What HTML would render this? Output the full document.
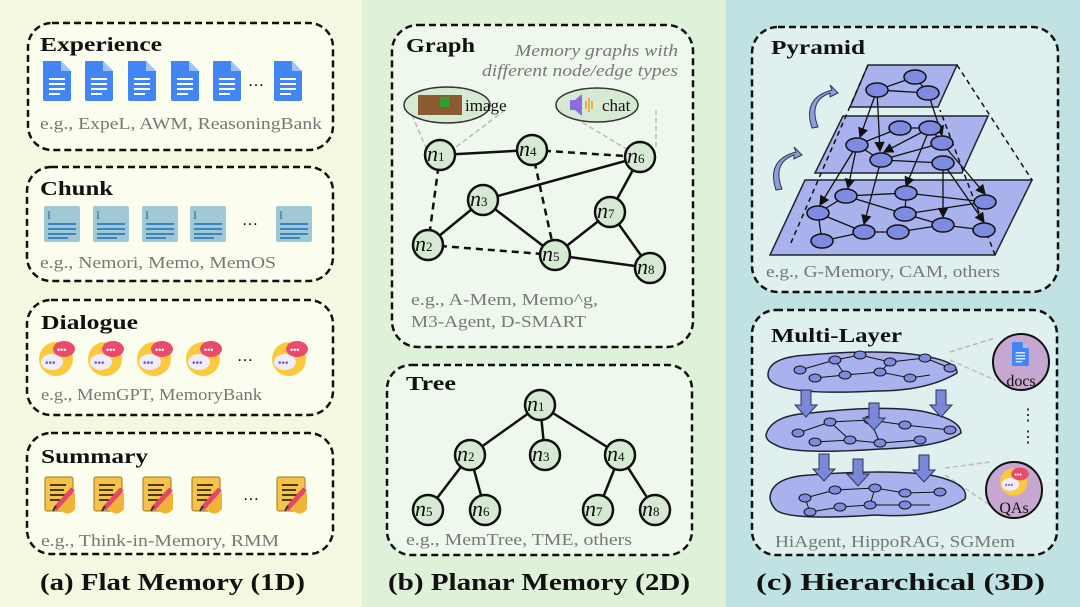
<!DOCTYPE html>
<html><head><meta charset="utf-8"><style>
html,body{margin:0;padding:0;width:1080px;height:607px;overflow:hidden;background:#f3f8e0}
svg{display:block}
.t{font-family:"Liberation Serif",serif;font-weight:bold;font-size:20px;fill:#111}
.e{font-family:"Liberation Serif",serif;font-size:17px;fill:#777}
.cap{font-family:"Liberation Serif",serif;font-weight:bold;font-size:24px;fill:#111}
.box{stroke:#111;stroke-width:2.5;stroke-dasharray:7 4;fill-opacity:1}
.nd{fill:#d6e9d2;stroke:#111;stroke-width:2.5}
.nl{font-family:"Liberation Serif",serif;font-style:italic;font-size:22px;fill:#111}
.pn{fill:#7f8be0;stroke:#111;stroke-width:1.5}
.pl{fill:#a9b2ec;stroke:#223;stroke-width:1.5}
</style></head><body>
<svg width="1080" height="607" viewBox="0 0 1080 607" xmlns="http://www.w3.org/2000/svg">
<defs>
<marker id="ar" markerWidth="8" markerHeight="8" refX="7" refY="4" orient="auto"><path d="M0,0 L8,4 L0,8 z" fill="#111"/></marker>
<g id="doc"><path d="M0,0 h18 l10,10 v28 a2,2 0 0 1 -2,2 h-24 a2,2 0 0 1 -2,-2 z" fill="#4285f4"/><path d="M18,0 l10,10 h-10 z" fill="#a1c2fa"/><rect x="6" y="17" width="16" height="2" fill="#fff"/><rect x="6" y="22" width="16" height="2" fill="#fff"/><rect x="6" y="27" width="16" height="2" fill="#fff"/><rect x="6" y="32" width="11" height="2" fill="#fff"/></g>
<g id="chk"><rect x="0" y="0" width="36" height="36" rx="2" fill="#9fc8d4"/><text x="3" y="13" font-family="Liberation Serif" font-size="12" fill="#2a6a9a">I</text><rect x="4" y="17" width="28" height="2" fill="#3a86c0"/><rect x="4" y="22" width="28" height="2" fill="#3a86c0"/><rect x="4" y="27" width="28" height="2" fill="#3a86c0"/><rect x="4" y="31" width="20" height="2" fill="#3a86c0"/></g>
<g id="dlg"><circle cx="17" cy="20" r="17" fill="#fbc93e"/><ellipse cx="13" cy="23" rx="11" ry="8" fill="#eeeefa"/><text x="6" y="27" font-size="10" fill="#7a5cd0" font-family="Liberation Sans">•••</text><ellipse cx="25" cy="10" rx="11" ry="8" fill="#ea4a6b"/><text x="18" y="14" font-size="9" fill="#fff" font-family="Liberation Sans">•••</text></g>
<g id="sum"><rect x="0" y="0" width="28" height="34" rx="2" fill="#f5c34a" stroke="#a07820" stroke-width="1"/><path d="M16,34 q8,6 14,-2 v-16 h-8" fill="#f0b436"/><rect x="5" y="7" width="16" height="2" fill="#4a3a10"/><rect x="5" y="12" width="14" height="2" fill="#4a3a10"/><rect x="5" y="17" width="16" height="2" fill="#4a3a10"/><rect x="5" y="22" width="10" height="2" fill="#4a3a10"/><path d="M10,32 L28,12" stroke="#e5476a" stroke-width="5"/><path d="M8,34 L11,29" stroke="#333" stroke-width="2"/></g>
</defs>
<rect x="0" y="0" width="362" height="607" fill="#f3f8e0"/>
<rect x="362" y="0" width="364" height="607" fill="#e0f1da"/>
<rect x="726" y="0" width="354" height="607" fill="#c0e2e2"/>

<!-- LEFT -->
<rect class="box" x="28" y="23" width="305" height="127" rx="24" fill="#fbfdee"/>
<text class="t" x="40" y="51" textLength="122" lengthAdjust="spacingAndGlyphs">Experience</text>
<use href="#doc" x="43" y="61"/><use href="#doc" x="85" y="61"/><use href="#doc" x="128" y="61"/><use href="#doc" x="171" y="61"/><use href="#doc" x="213" y="61"/>
<text x="248" y="86" font-size="16" font-family="Liberation Serif">…</text><use href="#doc" x="274" y="61"/>
<text class="e" x="40" y="129" textLength="282" lengthAdjust="spacingAndGlyphs">e.g., ExpeL, AWM, ReasoningBank</text>

<rect class="box" x="27" y="167" width="306" height="114" rx="24" fill="#fbfdee"/>
<text class="t" x="40" y="195" textLength="73" lengthAdjust="spacingAndGlyphs">Chunk</text>
<use href="#chk" x="44" y="206"/><use href="#chk" x="93" y="206"/><use href="#chk" x="142" y="206"/><use href="#chk" x="190" y="206"/>
<text x="242" y="225" font-size="16" font-family="Liberation Serif">…</text><use href="#chk" x="276" y="206"/>
<text class="e" x="40" y="268" textLength="236" lengthAdjust="spacingAndGlyphs">e.g., Nemori, Memo, MemOS</text>

<rect class="box" x="27" y="300" width="306" height="115" rx="24" fill="#fbfdee"/>
<text class="t" x="41" y="329" textLength="97" lengthAdjust="spacingAndGlyphs">Dialogue</text>
<use href="#dlg" x="39" y="339"/><use href="#dlg" x="88" y="339"/><use href="#dlg" x="137" y="339"/><use href="#dlg" x="186" y="339"/>
<text x="237" y="361" font-size="16" font-family="Liberation Serif">…</text><use href="#dlg" x="272" y="339"/>
<text class="e" x="41" y="400" textLength="221" lengthAdjust="spacingAndGlyphs">e.g., MemGPT, MemoryBank</text>

<rect class="box" x="27" y="433" width="306" height="121" rx="24" fill="#fbfdee"/>
<text class="t" x="41" y="463" textLength="107" lengthAdjust="spacingAndGlyphs">Summary</text>
<use href="#sum" x="45" y="477"/><use href="#sum" x="94" y="477"/><use href="#sum" x="143" y="477"/><use href="#sum" x="192" y="477"/>
<text x="243" y="500" font-size="16" font-family="Liberation Serif">…</text><use href="#sum" x="277" y="477"/>
<text class="e" x="41" y="546" textLength="238" lengthAdjust="spacingAndGlyphs">e.g., Think-in-Memory, RMM</text>

<text class="cap" x="40" y="590" textLength="265" lengthAdjust="spacingAndGlyphs">(a) Flat Memory (1D)</text>

<!-- MIDDLE: Graph -->
<rect class="box" x="392" y="25" width="301" height="322" rx="26" fill="#eff8ec"/>
<text class="t" x="406" y="52" textLength="69" lengthAdjust="spacingAndGlyphs">Graph</text>
<text class="e" x="515" y="56" font-style="italic" font-size="15" textLength="163" lengthAdjust="spacingAndGlyphs">Memory graphs with</text>
<text class="e" x="482" y="76" font-style="italic" font-size="15" textLength="196" lengthAdjust="spacingAndGlyphs">different node/edge types</text>
<g stroke="#bbb" stroke-width="1.5" stroke-dasharray="5 3"><line x1="412" y1="115" x2="428" y2="152"/><line x1="505" y1="110" x2="452" y2="150"/><line x1="562" y1="110" x2="628" y2="150"/><line x1="656" y1="110" x2="656" y2="150"/></g>
<ellipse cx="447" cy="105" rx="43" ry="18" fill="#d6e9d2" stroke="#333" stroke-width="1.5"/>
<rect x="418" y="95" width="44" height="20" fill="#8a5a30"/><rect x="440" y="97" width="10" height="10" fill="#2fa02f"/>
<text x="465" y="111" font-family="Liberation Serif" font-size="17" fill="#111">image</text>
<ellipse cx="597" cy="105" rx="41" ry="17" fill="#d6e9d2" stroke="#333" stroke-width="1.5"/>
<path d="M570,100 h5 l7,-6 v22 l-7,-6 h-5 z" fill="#8a6de0"/><g stroke="#f0a020" stroke-width="1.5"><line x1="586" y1="101" x2="586" y2="109"/><line x1="589" y1="98" x2="589" y2="112"/><line x1="592" y1="101" x2="592" y2="109"/></g>
<text x="602" y="111" font-family="Liberation Serif" font-size="17" fill="#111">chat</text>
<g stroke="#111" stroke-width="2.5"><line x1="440" y1="155" x2="532" y2="150"/><line x1="483" y1="200" x2="640" y2="157"/><line x1="483" y1="200" x2="428" y2="245"/><line x1="483" y1="200" x2="555" y2="255"/><line x1="640" y1="157" x2="610" y2="212"/><line x1="610" y1="212" x2="555" y2="255"/><line x1="610" y1="212" x2="650" y2="268"/><line x1="555" y1="255" x2="650" y2="268"/></g>
<g stroke="#111" stroke-width="2.5" stroke-dasharray="7 5"><line x1="532" y1="150" x2="640" y2="157"/><line x1="440" y1="155" x2="428" y2="245"/><line x1="428" y1="245" x2="555" y2="255"/><line x1="532" y1="150" x2="555" y2="255"/></g>
<g><circle class="nd" cx="440" cy="155" r="15"/><circle class="nd" cx="532" cy="150" r="15"/><circle class="nd" cx="640" cy="157" r="15"/><circle class="nd" cx="483" cy="200" r="15"/><circle class="nd" cx="610" cy="212" r="15"/><circle class="nd" cx="428" cy="245" r="15"/><circle class="nd" cx="555" cy="255" r="15"/><circle class="nd" cx="650" cy="268" r="15"/></g>
<g class="nl"><text x="427" y="161">n<tspan font-size="13" font-style="normal">1</tspan></text><text x="519" y="156">n<tspan font-size="13" font-style="normal">4</tspan></text><text x="627" y="163">n<tspan font-size="13" font-style="normal">6</tspan></text><text x="470" y="206">n<tspan font-size="13" font-style="normal">3</tspan></text><text x="597" y="218">n<tspan font-size="13" font-style="normal">7</tspan></text><text x="415" y="251">n<tspan font-size="13" font-style="normal">2</tspan></text><text x="542" y="261">n<tspan font-size="13" font-style="normal">5</tspan></text><text x="637" y="274">n<tspan font-size="13" font-style="normal">8</tspan></text></g>
<text class="e" x="411" y="305" textLength="187" lengthAdjust="spacingAndGlyphs">e.g., A-Mem, Memo^g,</text>
<text class="e" x="411" y="327" textLength="175" lengthAdjust="spacingAndGlyphs">M3-Agent, D-SMART</text>

<!-- Tree -->
<rect class="box" x="387" y="365" width="305" height="190" rx="24" fill="#eff8ec"/>
<text class="t" x="406" y="390" textLength="50" lengthAdjust="spacingAndGlyphs">Tree</text>
<g stroke="#111" stroke-width="2.5"><line x1="540" y1="405" x2="470" y2="455"/><line x1="540" y1="405" x2="545" y2="455"/><line x1="540" y1="405" x2="620" y2="455"/><line x1="470" y1="455" x2="428" y2="510"/><line x1="470" y1="455" x2="485" y2="510"/><line x1="620" y1="455" x2="598" y2="510"/><line x1="620" y1="455" x2="655" y2="510"/></g>
<g><circle class="nd" cx="540" cy="405" r="15"/><circle class="nd" cx="470" cy="455" r="15"/><circle class="nd" cx="545" cy="455" r="15"/><circle class="nd" cx="620" cy="455" r="15"/><circle class="nd" cx="428" cy="510" r="15"/><circle class="nd" cx="485" cy="510" r="15"/><circle class="nd" cx="598" cy="510" r="15"/><circle class="nd" cx="655" cy="510" r="15"/></g>
<g class="nl"><text x="527" y="411">n<tspan font-size="13" font-style="normal">1</tspan></text><text x="457" y="461">n<tspan font-size="13" font-style="normal">2</tspan></text><text x="532" y="461">n<tspan font-size="13" font-style="normal">3</tspan></text><text x="607" y="461">n<tspan font-size="13" font-style="normal">4</tspan></text><text x="415" y="516">n<tspan font-size="13" font-style="normal">5</tspan></text><text x="472" y="516">n<tspan font-size="13" font-style="normal">6</tspan></text><text x="585" y="516">n<tspan font-size="13" font-style="normal">7</tspan></text><text x="642" y="516">n<tspan font-size="13" font-style="normal">8</tspan></text></g>
<text class="e" x="406" y="545" textLength="226" lengthAdjust="spacingAndGlyphs">e.g., MemTree, TME, others</text>
<text class="cap" x="388" y="590" textLength="302" lengthAdjust="spacingAndGlyphs">(b) Planar Memory (2D)</text>

<!-- RIGHT: Pyramid -->
<rect class="box" x="752" y="27" width="306" height="265" rx="26" fill="#dff0ef"/>
<text class="t" x="771" y="54" textLength="94" lengthAdjust="spacingAndGlyphs">Pyramid</text>
<polygon class="pl" points="805,180 1032,180 995,255 770,255"/>
<polygon class="pl" points="843,116 988,116 962,173 815,173"/>
<polygon class="pl" points="868,65 957,65 938,107 850,107"/>
<g stroke="#111" stroke-width="1.5" stroke-dasharray="5 4" fill="none"><line x1="868" y1="65" x2="790" y2="245"/><line x1="957" y1="65" x2="1032" y2="180"/><line x1="995" y1="255" x2="940" y2="110"/></g>
<g stroke="#111" stroke-width="1.3" fill="none"><polyline points="877,90 915,77 928,93"/><line x1="877" y1="90" x2="928" y2="93"/>
<polyline points="857,145 900,128 930,128 942,143"/><line x1="881" y1="160" x2="943" y2="163"/><line x1="857" y1="145" x2="881" y2="160"/><line x1="881" y1="160" x2="942" y2="143"/>
<polyline points="818,213 846,196 906,193 985,202"/><polyline points="822,241 864,232 898,232 943,225 984,230"/><line x1="818" y1="213" x2="822" y2="241"/><line x1="818" y1="213" x2="864" y2="232"/><line x1="846" y1="196" x2="905" y2="214"/><line x1="905" y1="214" x2="985" y2="202"/><line x1="905" y1="214" x2="943" y2="225"/><line x1="906" y1="193" x2="905" y2="214"/></g>
<g stroke="#111" stroke-width="1.3" marker-end="url(#ar)"><line x1="877" y1="90" x2="860" y2="137"/><line x1="877" y1="90" x2="880" y2="151"/><line x1="928" y1="93" x2="942" y2="135"/><line x1="930" y1="128" x2="884" y2="152"/><line x1="930" y1="128" x2="906" y2="186"/><line x1="857" y1="145" x2="848" y2="188"/><line x1="857" y1="145" x2="820" y2="205"/><line x1="881" y1="160" x2="864" y2="224"/><line x1="942" y1="143" x2="985" y2="194"/><line x1="943" y1="163" x2="943" y2="217"/><line x1="943" y1="163" x2="984" y2="222"/></g>
<g><ellipse class="pn" cx="915" cy="77" rx="11" ry="7"/><ellipse class="pn" cx="877" cy="90" rx="11" ry="7"/><ellipse class="pn" cx="928" cy="93" rx="11" ry="7"/>
<ellipse class="pn" cx="900" cy="128" rx="11" ry="7"/><ellipse class="pn" cx="930" cy="128" rx="11" ry="7"/><ellipse class="pn" cx="857" cy="145" rx="11" ry="7"/><ellipse class="pn" cx="942" cy="143" rx="11" ry="7"/><ellipse class="pn" cx="881" cy="160" rx="11" ry="7"/><ellipse class="pn" cx="943" cy="163" rx="11" ry="7"/>
<ellipse class="pn" cx="846" cy="196" rx="11" ry="7"/><ellipse class="pn" cx="906" cy="193" rx="11" ry="7"/><ellipse class="pn" cx="985" cy="202" rx="11" ry="7"/><ellipse class="pn" cx="818" cy="213" rx="11" ry="7"/><ellipse class="pn" cx="905" cy="214" rx="11" ry="7"/><ellipse class="pn" cx="943" cy="225" rx="11" ry="7"/><ellipse class="pn" cx="864" cy="232" rx="11" ry="7"/><ellipse class="pn" cx="898" cy="232" rx="11" ry="7"/><ellipse class="pn" cx="984" cy="230" rx="11" ry="7"/><ellipse class="pn" cx="822" cy="241" rx="11" ry="7"/></g>
<g fill="#8aa0d8" stroke="#335" stroke-width="1"><path d="M812,128 q-10,-30 20,-38 l-2,-5 l8,8 l-8,4 l0,-4 q-22,8 -12,34 z"/><path d="M776,190 q-10,-30 20,-38 l-2,-5 l8,8 l-8,4 l0,-4 q-22,8 -12,34 z"/></g>
<text class="e" x="766" y="277" textLength="234" lengthAdjust="spacingAndGlyphs">e.g., G-Memory, CAM, others</text>

<!-- Multi-layer -->
<rect class="box" x="752" y="310" width="305" height="245" rx="24" fill="#dff0ef"/>
<text class="t" x="771" y="342" textLength="131" lengthAdjust="spacingAndGlyphs">Multi-Layer</text>
<g stroke="#bbb" stroke-width="1.5" stroke-dasharray="5 3"><line x1="950" y1="352" x2="995" y2="338"/><line x1="950" y1="360" x2="995" y2="380"/><line x1="945" y1="468" x2="990" y2="462"/><line x1="945" y1="475" x2="990" y2="505"/></g>
<path class="pl" d="M768,375 q0,-18 40,-20 q70,-6 110,0 q40,6 39,18 q-30,18 -80,18 q-80,4 -100,-6 q-9,-4 -9,-10 z"/>
<path class="pl" d="M766,435 q5,-20 45,-22 q70,-8 110,-2 q40,8 40,22 q-20,14 -80,16 q-90,6 -105,-4 q-10,-4 -10,-10 z"/>
<path class="pl" d="M770,497 q2,-20 40,-22 q80,-6 120,0 q40,8 35,24 q-30,20 -90,16 q-90,6 -100,-6 q-5,-6 -5,-12 z"/>
<g stroke="#111" stroke-width="1" fill="none"><polyline points="800,370 835,360 860,355 890,362 925,358 950,368"/><polyline points="815,378 845,375 880,372 910,378 930,375"/><line x1="835" y1="360" x2="845" y2="375"/><line x1="890" y1="362" x2="880" y2="372"/>
<polyline points="798,433 830,422 870,420 905,425 950,430"/><polyline points="815,442 850,440 880,443 920,440"/><line x1="830" y1="422" x2="850" y2="440"/><line x1="870" y1="420" x2="880" y2="443"/>
<polyline points="805,498 835,490 875,488 905,493 940,492"/><polyline points="810,512 840,507 870,505 905,505 930,505"/><line x1="805" y1="498" x2="810" y2="512"/><line x1="875" y1="488" x2="870" y2="505"/></g>
<g fill="#7f8be0" stroke="#111" stroke-width="1"><ellipse cx="800" cy="370" rx="6" ry="4"/><ellipse cx="835" cy="360" rx="6" ry="4"/><ellipse cx="860" cy="355" rx="6" ry="4"/><ellipse cx="890" cy="362" rx="6" ry="4"/><ellipse cx="925" cy="358" rx="6" ry="4"/><ellipse cx="950" cy="368" rx="6" ry="4"/><ellipse cx="815" cy="378" rx="6" ry="4"/><ellipse cx="845" cy="375" rx="6" ry="4"/><ellipse cx="880" cy="372" rx="6" ry="4"/><ellipse cx="910" cy="378" rx="6" ry="4"/>
<ellipse cx="798" cy="433" rx="6" ry="4"/><ellipse cx="830" cy="422" rx="6" ry="4"/><ellipse cx="870" cy="420" rx="6" ry="4"/><ellipse cx="905" cy="425" rx="6" ry="4"/><ellipse cx="950" cy="430" rx="6" ry="4"/><ellipse cx="815" cy="442" rx="6" ry="4"/><ellipse cx="850" cy="440" rx="6" ry="4"/><ellipse cx="880" cy="443" rx="6" ry="4"/><ellipse cx="920" cy="440" rx="6" ry="4"/>
<ellipse cx="805" cy="498" rx="6" ry="4"/><ellipse cx="835" cy="490" rx="6" ry="4"/><ellipse cx="875" cy="488" rx="6" ry="4"/><ellipse cx="905" cy="493" rx="6" ry="4"/><ellipse cx="940" cy="492" rx="6" ry="4"/><ellipse cx="810" cy="512" rx="6" ry="4"/><ellipse cx="840" cy="507" rx="6" ry="4"/><ellipse cx="870" cy="505" rx="6" ry="4"/><ellipse cx="905" cy="505" rx="6" ry="4"/></g>
<g fill="#7a88dc" stroke="#335" stroke-width="1"><path d="M801,390 h10 v15 h6 l-11,12 l-11,-12 h6 z"/><path d="M869,403 h10 v15 h6 l-11,12 l-11,-12 h6 z"/><path d="M936,390 h10 v15 h6 l-11,12 l-11,-12 h6 z"/><path d="M819,454 h10 v15 h6 l-11,12 l-11,-12 h6 z"/><path d="M853,459 h10 v15 h6 l-11,12 l-11,-12 h6 z"/><path d="M919,455 h10 v15 h6 l-11,12 l-11,-12 h6 z"/></g>
<circle cx="1021" cy="362" r="28" fill="#c6a7cf" stroke="#111" stroke-width="2"/>
<use href="#doc" x="1012" y="342" transform="translate(1012 342) scale(0.6) translate(-1012 -342)"/>
<text x="1021" y="386" text-anchor="middle" font-family="Liberation Serif" font-size="16" fill="#111">docs</text>
<text x="1020" y="420" font-family="Liberation Serif" font-size="16" fill="#111">⋮</text>
<text x="1020" y="442" font-family="Liberation Serif" font-size="16" fill="#111">⋮</text>
<circle cx="1014" cy="490" r="28" fill="#c6a7cf" stroke="#111" stroke-width="2"/>
<use href="#dlg" x="1000" y="466" transform="translate(1000 466) scale(0.8) translate(-1000 -466)"/>
<text x="1014" y="513" text-anchor="middle" font-family="Liberation Serif" font-size="16" fill="#111">QAs</text>
<text class="e" x="775" y="547" textLength="240" lengthAdjust="spacingAndGlyphs">HiAgent, HippoRAG, SGMem</text>
<text class="cap" x="756" y="590" textLength="289" lengthAdjust="spacingAndGlyphs">(c) Hierarchical  (3D)</text>
</svg>
</body></html>
